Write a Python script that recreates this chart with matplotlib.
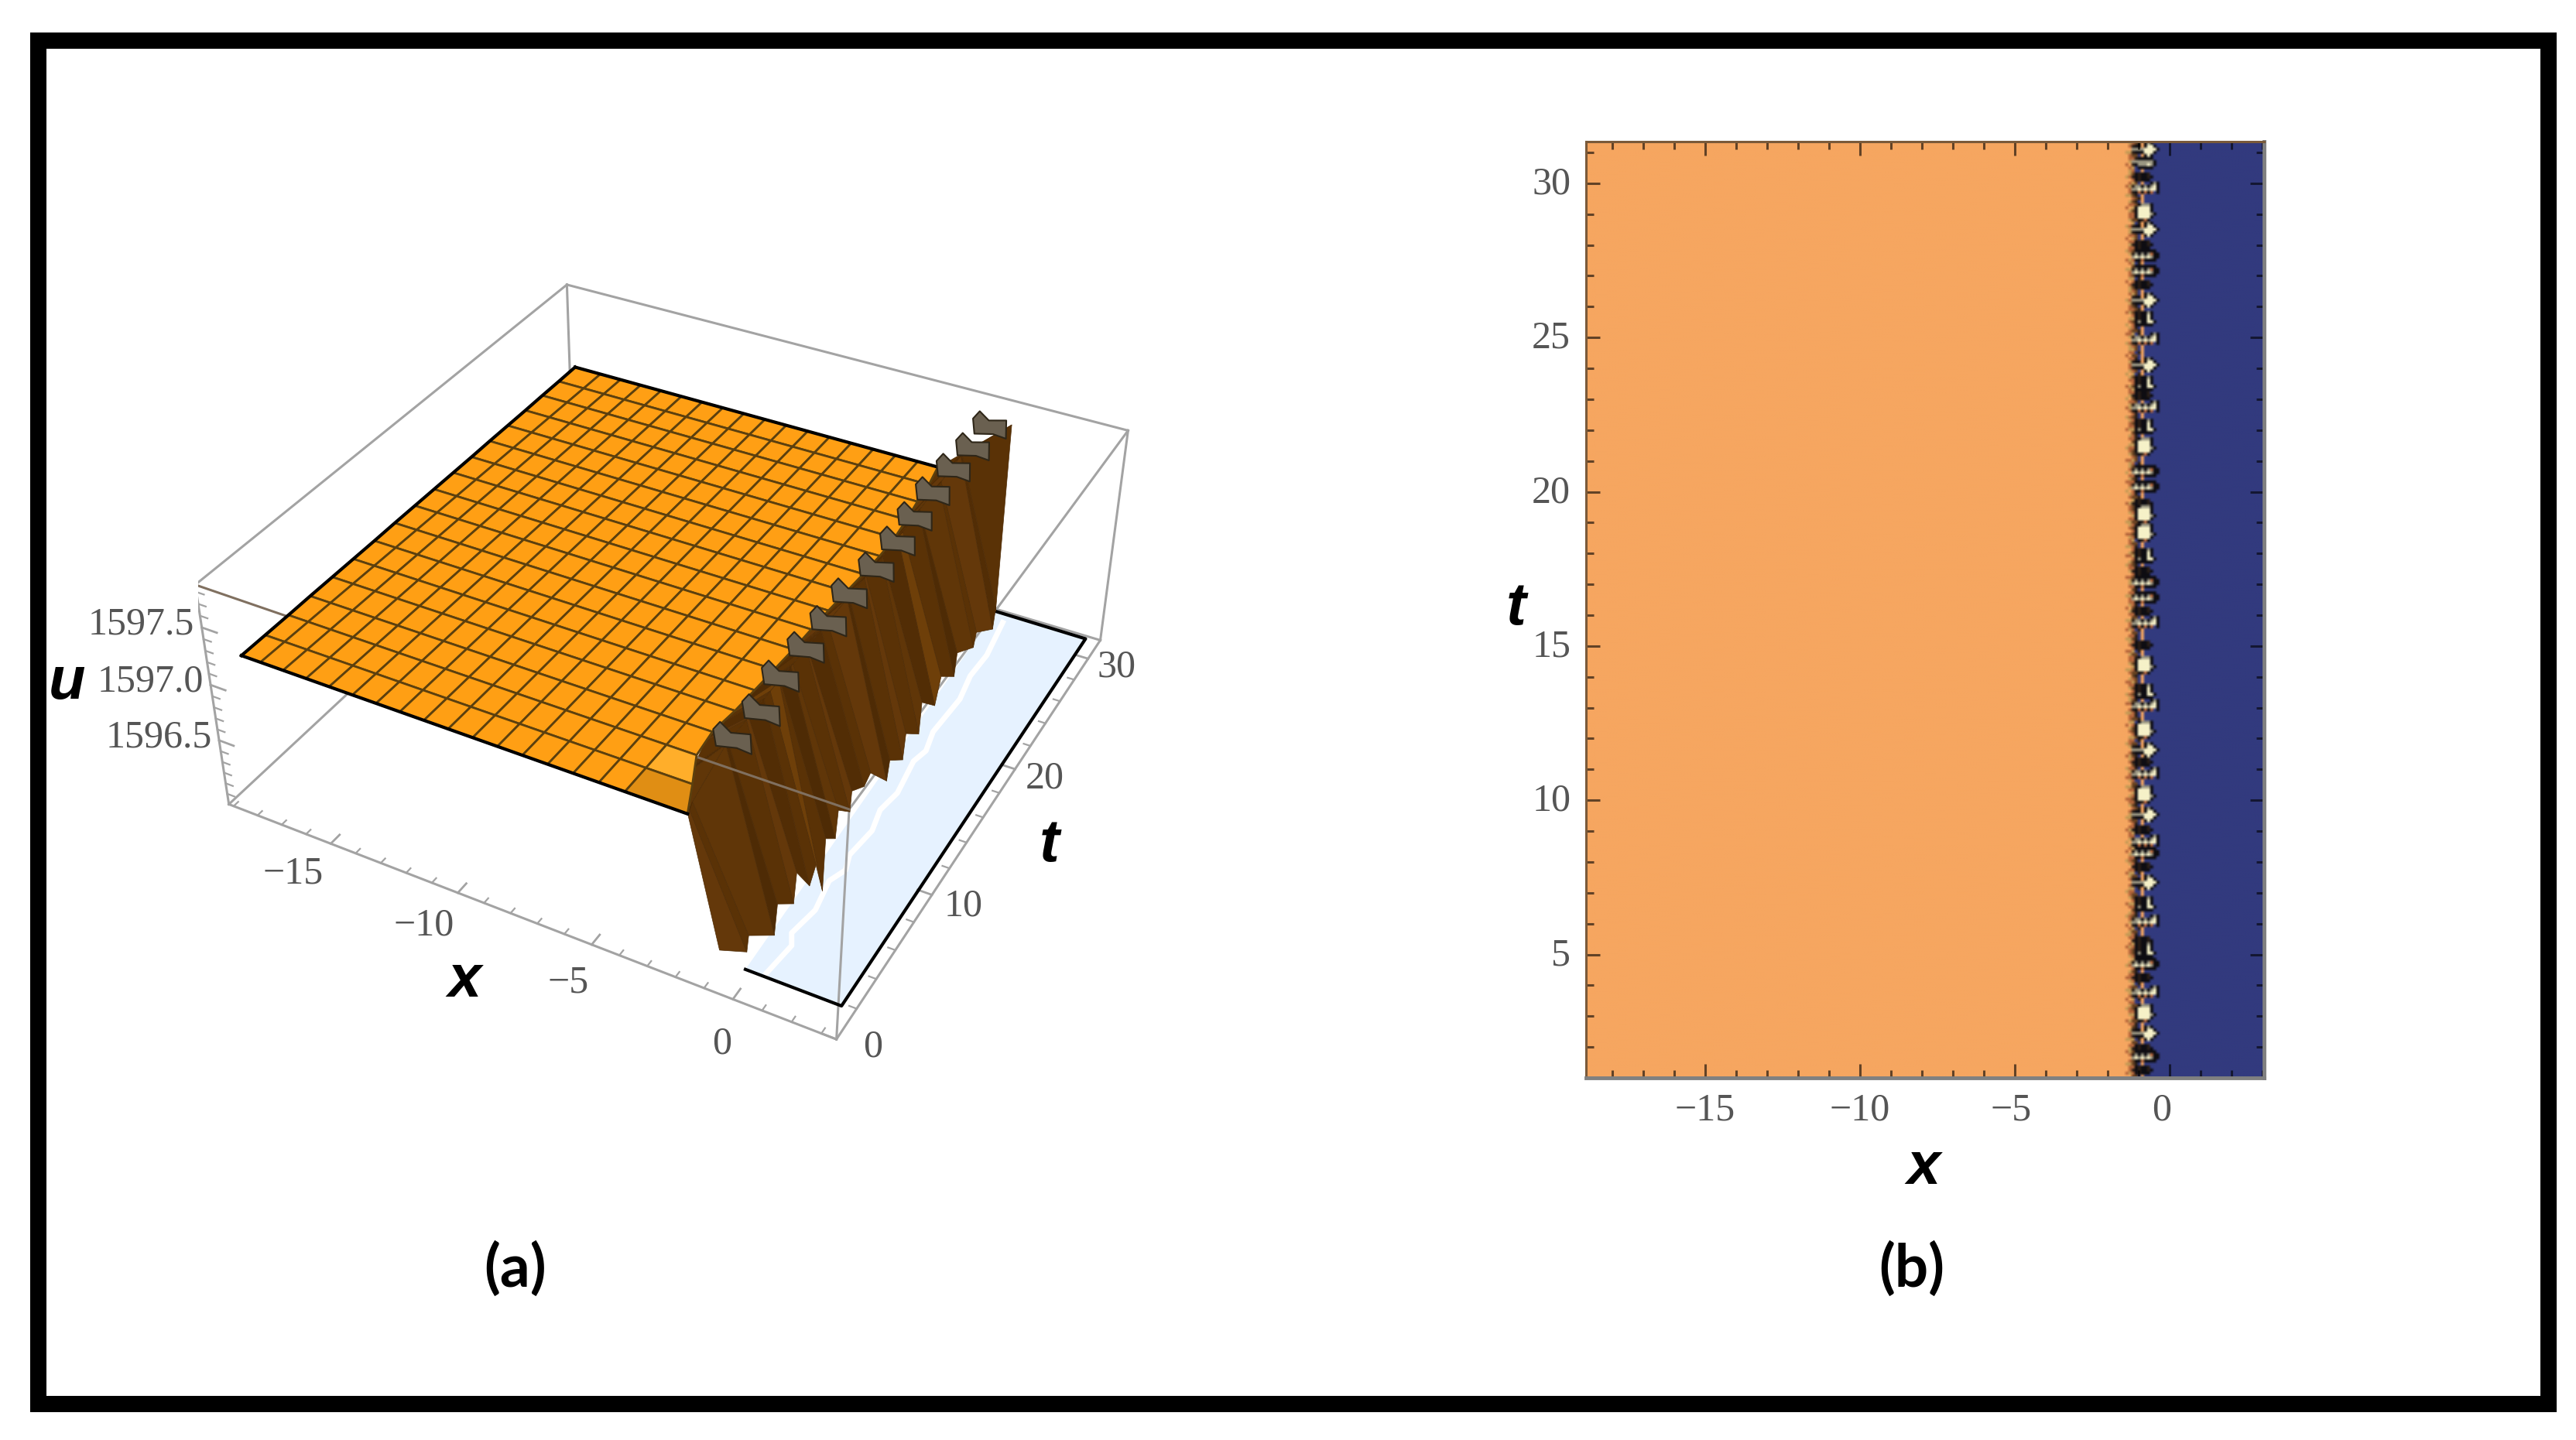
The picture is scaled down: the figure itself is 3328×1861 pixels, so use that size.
import numpy as np
import matplotlib
matplotlib.use('Agg')
import matplotlib.pyplot as plt
from matplotlib.colors import to_rgb, to_rgba
from matplotlib.patches import Rectangle
from matplotlib.transforms import ScaledTranslation
from mpl_toolkits.mplot3d import proj3d
from mpl_toolkits.mplot3d.art3d import Poly3DCollection

W, H = 3328, 1861

# panel (a) box and ticks
box_x = (-19.2, 3.5)
box_t = (0.0, 31.8)
box_u = (1595.9, 1597.86)
x3_major = [-15, -10, -5, 0]
x3_labels = ['\u221215', '\u221210', '\u22125', '0']
x3_label_x = [-15.2, -10.1, -4.8, 0.55]
x3_minor = [-19, -18, -17, -16, -14, -13, -12, -11, -9, -8, -7, -6, -4, -3, -2, -1, 1, 2, 3]
t3_major = [0, 10, 20, 30]
t3_label_t = [0.3, 10.0, 20.0, 30.0]
t3_minor = [2, 4, 6, 8, 12, 14, 16, 18, 22, 24, 26, 28]
u3_major = [1596.5, 1597.0, 1597.5]
u3_minor = [1596.0, 1596.1, 1596.2, 1596.3, 1596.4, 1596.6, 1596.7, 1596.8, 1596.9, 1597.1, 1597.2, 1597.3, 1597.4, 1597.6, 1597.7, 1597.8]

# plateau of the surface
plateau_x = [-17.6, -16.7, -15.8, -14.9, -14.0, -13.1, -12.2, -11.3, -10.4, -9.5, -8.6, -7.7, -6.8, -5.9, -5.0, -4.1]
plateau_t = [1.0, 2.8, 4.6, 6.35, 8.15, 9.9, 11.7, 13.5, 15.3, 17.05, 18.85, 20.6, 22.4, 24.2, 26.0, 27.8, 29.55, 31.35]
plateau_left = [-18.36, -18.38, -18.4, -18.43, -18.45, -18.47, -18.49, -18.52, -18.54, -18.56, -18.58, -18.6, -18.63, -18.65, -18.67, -18.7, -18.72, -18.75]
plateau_edge = [-1.97, -2.5, -3.05, -3.17, -3.05, -3.0, -2.95, -2.9, -2.88, -2.85, -2.8, -2.75, -2.72, -2.74, -2.85, -3.0, -3.1, -3.3]
plateau_u = [1597.22, 1597.215, 1597.21, 1597.205, 1597.2, 1597.195, 1597.19, 1597.185, 1597.18, 1597.175, 1597.17, 1597.165, 1597.16, 1597.155, 1597.15, 1597.145, 1597.14, 1597.135]

# wall where the surface falls to the low level
wall_t = [1.0, 1.1, 1.24, 3.77, 3.99, 5.65, 5.86, 7.28, 7.88, 8.73, 8.81, 9.89, 10.08, 11.4, 11.5, 12.91,
          13.58, 15.62, 15.85, 17.49, 17.67, 19.36, 19.47, 21.23, 21.79, 23.6, 23.77, 26.04, 26.3, 28.71, 28.89, 31.35]
wall_edge_x = [-1.97, -1.98, -2.0, -2.85, -2.9, -3.15, -3.17, -3.1, -3.06, -3.03, -3.03, -3.0, -3.0, -2.96, -2.96, -2.92,
               -2.9, -2.88, -2.87, -2.84, -2.83, -2.79, -2.78, -2.74, -2.73, -2.73, -2.73, -2.85, -2.87, -3.05, -3.06, -3.3]
wall_edge_u = [1597.215, 1597.215, 1597.215, 1597.205, 1597.205, 1597.2, 1597.2, 1597.195, 1597.195, 1597.19, 1597.19, 1597.19, 1597.185, 1597.185, 1597.18, 1597.18,
               1597.175, 1597.17, 1597.17, 1597.165, 1597.165, 1597.16, 1597.16, 1597.155, 1597.155, 1597.15, 1597.15, 1597.145, 1597.145, 1597.14, 1597.135, 1597.13]
wall_foot_x = [-0.85, 0.05, 0.05, 0.05, 0.05, 0.05, 0.05, 0.05, 0.05, 0.05, 0.05, 0.05, 0.05, 0.05, 0.05, 0.05,
               0.05, 0.05, 0.05, 0.05, 0.05, 0.05, 0.05, 0.05, 0.05, 0.05, 0.05, 0.05, 0.05, 0.05, 0.05, -0.55]
wall_foot_u = [1596.13, 1596.19, 1596.32, 1595.99, 1596.25, 1596.04, 1596.30, 1596.0, 1596.12, 1595.77, 1596.25, 1596.12, 1596.36, 1596.19, 1596.37, 1596.25,
               1596.30, 1595.99, 1596.16, 1595.98, 1596.21, 1596.02, 1596.31, 1596.09, 1596.31, 1596.12, 1596.33, 1596.15, 1596.27, 1596.06, 1596.25, 1595.93]
wall_top_x = [-1.97, -1.95, -1.9, -1.75, -1.75, -1.75, -1.75, -1.75, -1.75, -1.75, -1.75, -1.75, -1.75, -1.75, -1.75, -1.75,
              -1.75, -1.75, -1.75, -1.75, -1.75, -1.75, -1.75, -1.75, -1.75, -1.75, -1.75, -1.75, -1.75, -1.75, -1.75, -0.63]
wall_top_u = [1597.23, 1597.25, 1597.3, 1597.5, 1597.5, 1597.5, 1597.5, 1597.5, 1597.5, 1597.5, 1597.5, 1597.5, 1597.5, 1597.5, 1597.5, 1597.5,
              1597.5, 1597.5, 1597.5, 1597.5, 1597.5, 1597.5, 1597.5, 1597.5, 1597.5, 1597.52, 1597.52, 1597.54, 1597.54, 1597.56, 1597.56, 1597.69]
wall_colors = ['#64380a', '#5a3206', '#603608', '#4e2b05', '#5a3206', '#64380a', '#522d05', '#5a3206', '#6e3f09', '#5a3206',
               '#4e2b05', '#603608', '#5a3206', '#64380a', '#522d05', '#5a3206', '#64380a', '#4e2b05', '#5a3206', '#64380a',
               '#5a3206', '#603608', '#522d05', '#6e3f09', '#5a3206', '#4e2b05', '#603608', '#5a3206', '#64380a', '#522d05', '#5a3206', '#5a3206']

# spike tops
spike_t = [4.07, 6.3, 8.8, 11.18, 13.41, 15.79, 18.26, 20.68, 22.98, 25.41, 27.84, 30.09, 31.0]
spike_x = [-1.74, -1.59, -1.83, -1.79, -1.77, -1.83, -1.68, -1.69, -1.79, -1.88, -1.85, -1.79, -1.46]
spike_u = [1597.52, 1597.52, 1597.52, 1597.52, 1597.52, 1597.52, 1597.52, 1597.52, 1597.52, 1597.52, 1597.52, 1597.52, 1597.66]
spike_dx = [-0.55, -0.32, 0.05, 0.7, 0.75, 0.25, -0.45]
spike_du = [0.03, 0.11, 0.05, 0.09, -0.07, -0.06, -0.1]

# low level
floor_x = [[0.05, 3.3], [-0.55, 3.03]]
floor_t = [[1.0, 1.0], [31.35, 31.35]]
floor_u = [[1596.044, 1596.044], [1595.93, 1595.924]]
glare_t = [1.5, 3.5, 4.2, 6.0, 8.0, 9.0, 10.0, 12.0, 13.5, 15.0, 17.5, 18.5, 20.0, 23.0, 25.0, 27.0, 30.0]
glare_x = [0.6, 0.75, 0.5, 0.7, 0.5, 0.75, 0.55, 0.7, 0.5, 0.65, 0.45, 0.6, 0.4, 0.5, 0.3, 0.35, 0.1]

# panel (b)
xlim_b = (-18.85, 3.05)
ylim_b = (1.0, 31.35)
x_major = [-15, -10, -5, 0]
x_minor = [-18, -17, -16, -14, -13, -12, -11, -9, -8, -7, -6, -4, -3, -2, -1, 1, 2, 3]
y_major = [5, 10, 15, 20, 25, 30]
y_minor = [2, 3, 4, 6, 7, 8, 9, 11, 12, 13, 14, 16, 17, 18, 19, 21, 22, 23, 24, 26, 27, 28, 29, 31]
blob_t = [31.14, 30.59, 30.18, 29.76, 29.05, 28.46, 28.04, 27.6, 27.08, 26.71, 26.25, 25.58, 24.91, 24.11, 23.53, 23.15, 22.73, 22.11, 21.4,
          20.56, 20.06, 19.64, 19.22, 18.56, 17.89, 17.38, 16.97, 16.51, 16.09, 15.67, 15.0, 14.33, 13.54, 13.0, 12.16, 11.57, 11.24,
          10.78, 10.07, 9.48, 9.02, 8.62, 8.17, 7.77, 7.27, 6.64, 5.97, 5.43, 5.09, 4.59, 4.17, 3.75, 3.03, 2.38, 1.92, 1.58, 1.16]
blob_kind = 'cbdlwcdssdchlchdlhw' 'ssdwwhdssdldwhlwcd' 'lwcdlsdchldhsdlwcdsd'
blob_shape = {
    'c': ['....kgk..', 'dkk.kcck.', 'ggggcccck', 'dkkkccck.', '....kck..'],
    'b': ['..kkkkk..', 'gggggggk.', 'dkgggcgk.', '..kkkkk..'],
    'd': ['.kdkkd...', 'dkdkkdk..', '.kdkkk...'],
    'l': ['......kgk', 'dggkgkgck', 'ggcgcgcck', 'dkokoko.k'],
    'w': ['..kgggk..', '.kcccck..', '.kcccck..', '.kccccgk.', '.kcccck..', '..kdok...'],
    's': ['.kkkkkkk.', 'dgkgkgokk', 'gcgcgcgkk', '.kkokkkk.'],
    'h': ['.kdkkgk..', '.kdkkck..', '.kdkkck..', '.kgkkcck.', '.kkkkkk..'],
}
band_columns = ['oooToooRoooTooRooToooRoo', 'TRoTRRToRTTRoRTRRTo', 'RBRTBRRBTRBBRTRBRB', 'BdBnBddBnnBdBBnBdd', 'dnndnnnddnnnnndnnn']
cell_colors = {'o': '#F6A660', 'T': '#C49A55', 'R': '#B5673C', 'B': '#6A4422', 'd': '#2a1f18', 'n': '#323A7E',
               'k': '#0e0d12', 'g': '#9a9682', 'c': '#F6F1C8'}


def fx(p):
    return p / W


def fy(p):
    return 1 - p / H


plt.rcParams['font.family'] = ['Liberation Serif', 'DejaVu Serif']
fig = plt.figure(figsize=(W / 100, H / 100), dpi=100, facecolor='white')

# outer frame
fig.add_artist(Rectangle((fx(48.5), fy(1813.5)), 3243 / W, 1762 / H, transform=fig.transFigure,
                         fill=False, edgecolor='black', linewidth=15.12, joinstyle='miter'))

# ---------- panel (a)
side = 6614.85 * 0.185
ax = fig.add_axes([fx(256.3), fy(1422.9), side / W, side / H], projection='3d')
ax.computed_zorder = False
ax.set_xlim(*box_x, view_margin=0)
ax.set_ylim(*box_t, view_margin=0)
ax.set_zlim(*box_u, view_margin=0)
ax.view_init(35.926, -61.609)
ax.set_proj_type('persp', focal_length=0.44786)
ax.set_box_aspect((1, 1.00696, 0.40018))
ax.set_axis_off()

box_col = '#a3a3a3'
x0, x1 = box_x
t0, t1 = box_t
u0, u1 = box_u
back_edges = [((x0, t1, u0), (x0, t1, u1)), ((x0, t0, u0), (x0, t1, u0)), ((x0, t1, u0), (x1, t1, u0)),
              ((x0, t1, u1), (x1, t1, u1)), ((x0, t0, u1), (x0, t1, u1)), ((x1, t1, u0), (x1, t1, u1)),
              ((x0, t0, u0), (x0, t0, u1)), ((x1, t0, u1), (x1, t1, u1)), ((x1, t0, u0), (x1, t1, u0)),
              ((x0, t0, u0), (x1, t0, u0)), ((x1, t0, u0), (x1, t0, u1))]
for a, b in back_edges:
    ax.plot(*zip(a, b), color=box_col, lw=2.2, zorder=2)
ax.plot(*zip((x0, t0, u1), (x1, t0, u1)), color='#807060', lw=2.2, zorder=3.5)

# ticks
for v in x3_major:
    ax.plot([v, v], [t0, t0 + 0.7], [u0, u0], color=box_col, lw=2, zorder=2)
for v in x3_minor:
    ax.plot([v, v], [t0, t0 + 0.35], [u0, u0], color=box_col, lw=1.6, zorder=2)
for v in t3_major:
    ax.plot([x1, x1 - 0.5], [v, v], [u0, u0], color=box_col, lw=2, zorder=2)
for v in t3_minor:
    ax.plot([x1, x1 - 0.25], [v, v], [u0, u0], color=box_col, lw=1.6, zorder=2)
for v in u3_major:
    ax.plot([x0, x0 + 0.6], [t0, t0], [v, v], color=box_col, lw=2, zorder=2)
for v in u3_minor:
    ax.plot([x0, x0 + 0.3], [t0, t0], [v, v], color=box_col, lw=1.6, zorder=2)

# low level
ax.plot_surface(np.array(floor_x), np.array(floor_t), np.array(floor_u), color='#E6F2FF', shade=False,
                rstride=1, cstride=1, linewidth=0, zorder=1)
ax.plot(glare_x, glare_t, [1596.0] * len(glare_t), color='white', lw=5, zorder=1.5)
fl_x = np.array(floor_x)
fl_t = np.array(floor_t)
fl_u = np.array(floor_u)
ax.plot([fl_x[0, 0], fl_x[0, 1], fl_x[1, 1], fl_x[1, 0]], [fl_t[0, 0], fl_t[0, 1], fl_t[1, 1], fl_t[1, 0]],
        [fl_u[0, 0], fl_u[0, 1], fl_u[1, 1], fl_u[1, 0]], color='black', lw=3, zorder=2.5)

# wall
wall_X = np.column_stack([wall_edge_x, wall_top_x, wall_foot_x])
wall_T = np.column_stack([wall_t, wall_t, wall_t])
wall_U = np.column_stack([wall_edge_u, wall_top_u, wall_foot_u])
wall_fc = np.array([[to_rgba(c), to_rgba(c), to_rgba(c)] for c in wall_colors])
ax.plot_surface(wall_X, wall_T, wall_U, facecolors=wall_fc, shade=False, rstride=1, cstride=1,
                linewidth=0.5, edgecolor='#4e2b05', zorder=3)

# plateau
plat_X = np.array([[lf] + plateau_x + [e] for lf, e in zip(plateau_left, plateau_edge)])
plat_T = np.array([[v] * plat_X.shape[1] for v in plateau_t])
plat_U = np.array([[v] * plat_X.shape[1] for v in plateau_u])
plat_fc = np.array([[to_rgba('#FF9F14')] * plat_X.shape[1] for _ in plateau_t])
plat_fc[0, -2] = to_rgba('#E08E14')
plat_fc[1, -2] = to_rgba('#FFAE2A')
ax.plot_surface(plat_X, plat_T, plat_U, facecolors=plat_fc, shade=False, rstride=1, cstride=1,
                linewidth=2, edgecolor='#5c400e', zorder=4)
ax.plot(plat_X[0], plat_T[0], plat_U[0], color='black', lw=3, zorder=4.5)
ax.plot(plat_X[-1], plat_T[-1], plat_U[-1], color='black', lw=3, zorder=4.5)
ax.plot(plat_X[:, 0], plat_T[:, 0], plat_U[:, 0], color='black', lw=3, zorder=4.5)

# spike tops
spike_polys = []
for t, x, u in zip(spike_t, spike_x, spike_u):
    spike_polys.append([(x + dx, t, u + du) for dx, du in zip(spike_dx, spike_du)])
ax.add_collection3d(Poly3DCollection(spike_polys, facecolors='#6A6050', edgecolors='#2e2618', linewidths=1.5, zorder=5))

# labels of the box, placed through the projection of the 3d axes
label_col = '#555555'
proj = ax.get_proj()


def box_text(x, t, u, s, ha='center'):
    px, py, _ = proj3d.proj_transform(x, t, u, proj)
    ax.text2D(px, py, s, transform=ax.transData, color=label_col, fontsize=36, ha=ha, va='center', zorder=6)


for v, s in zip(x3_label_x, x3_labels):
    box_text(v, t0 - 2.5, u0, s)
for v, s in zip(t3_label_t, t3_major):
    box_text(x1 + 1.1, v, u0, str(s))
for v in u3_major:
    box_text(x0 - 0.3, t0, v, f'{v:.1f}', ha='right')

# ---------- panel (b)
axb = fig.add_axes([fx(2048.6), fy(1393), (2925 - 2048.6) / W, (1393 - 183) / H])
cell = 0.1
n_cols = int(round((xlim_b[1] - xlim_b[0]) / cell))
n_rows = int(round((ylim_b[1] - ylim_b[0]) / cell))
col_x = xlim_b[0] + (np.arange(n_cols) + 0.5) * cell
img = np.zeros((n_rows, n_cols, 3))
img[:] = to_rgb(cell_colors['o'])
img[:, col_x > -0.9] = to_rgb(cell_colors['n'])
c_start = int((-1.4 - xlim_b[0]) / cell)
for i, tile in enumerate(band_columns):
    for r in range(n_rows):
        img[r, c_start + i] = to_rgb(cell_colors[tile[r % len(tile)]])
c_blob = int((-1.17 - xlim_b[0]) / cell)
for t, kind in zip(blob_t, blob_kind):
    rows = blob_shape[kind]
    r0 = int((ylim_b[1] - t) / cell) - len(rows) // 2
    for i, line in enumerate(rows):
        for j, ch in enumerate(line):
            if ch != '.' and 0 <= r0 + i < n_rows:
                img[r0 + i, c_blob + j] = to_rgb(cell_colors.get(ch, '#B5673C') if ch != 'o' else '#B5673C')
axb.imshow(img, extent=(xlim_b[0], xlim_b[1], ylim_b[0], ylim_b[1]), aspect='auto', interpolation='bilinear')
axb.set_xlim(*xlim_b)
axb.set_ylim(*ylim_b)
axb.set_xticks(x_major, ['\u221215', '\u221210', '\u22125', '0'])
axb.set_xticks(x_minor, minor=True)
axb.set_yticks(y_major, [str(v) for v in y_major])
axb.set_yticks(y_minor, minor=True)
tick_col = (0, 0, 0, 0.6)
axb.tick_params(which='major', direction='in', length=13, width=2.2, color=tick_col, top=True, right=True,
                labelsize=36, labelcolor=label_col, pad=14)
axb.tick_params(which='minor', direction='in', length=7, width=2.2, color=tick_col, top=True, right=True)
axb.spines['left'].set(color='#7a5a3a', linewidth=2.2)
axb.spines['top'].set(color='#7a5a3a', linewidth=2.2)
axb.spines['right'].set(color='#808080', linewidth=3.5)
axb.spines['bottom'].set(color='#808080', linewidth=3.5)
for lab in axb.get_yticklabels():
    lab.set_transform(lab.get_transform() + ScaledTranslation(0, 4 / 100, fig.dpi_scale_trans))
xlabs = axb.get_xticklabels()
xlabs[2].set_transform(xlabs[2].get_transform() + ScaledTranslation(-5 / 100, 0, fig.dpi_scale_trans))
xlabs[3].set_transform(xlabs[3].get_transform() + ScaledTranslation(-10 / 100, 0, fig.dpi_scale_trans))

# axis letters and panel names
letters = [('x', 600, 1267), ('u', 87, 883), ('t', 1356, 1093), ('x', 2485, 1509), ('t', 1959, 787)]
for s, px, py in letters:
    fig.text(fx(px), fy(py), s, family='Liberation Sans', weight='bold', style='italic', fontsize=56,
             color='black', ha='center', va='center')
fig.text(fx(666), fy(1640), '(a)', family='Lato', weight='bold', fontsize=55, ha='center', va='center')
fig.text(fx(2470), fy(1640), '(b)', family='Lato', weight='bold', fontsize=55, ha='center', va='center')

fig.savefig('out.png', dpi=100)
